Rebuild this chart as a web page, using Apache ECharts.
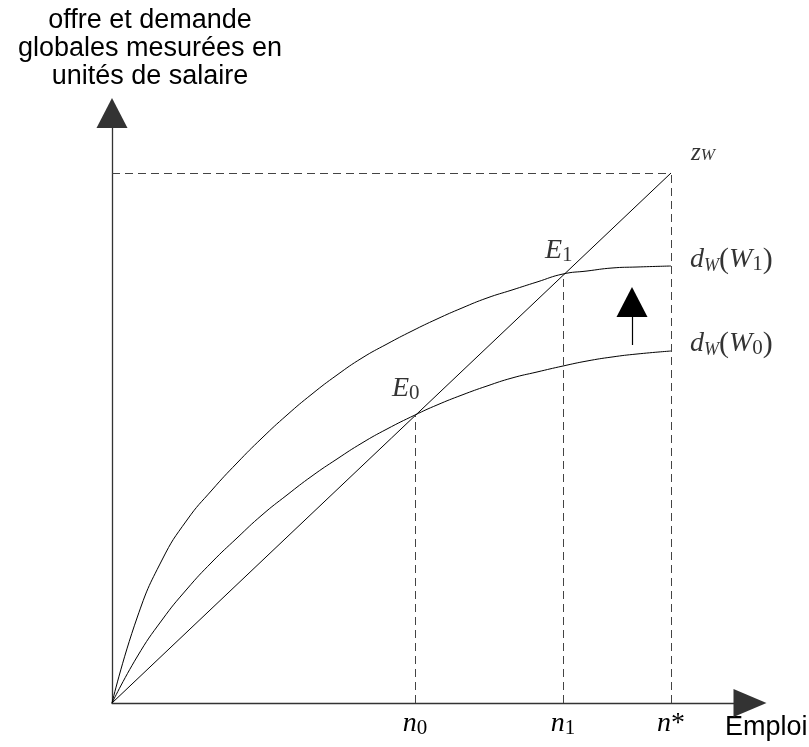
<!DOCTYPE html>
<html>
<head>
<meta charset="utf-8">
<script src="https://cdn.jsdelivr.net/npm/echarts@6/dist/echarts.min.js"></script>
<style>
  html, body { margin: 0; padding: 0; background: #fff; }
  #chart { width: 809px; height: 747px; }
</style>
</head>
<body>
<div id="chart"></div>
<script>
'use strict';

// values (units: pixels from the origin)
var n0 = 303, n1 = 451, nStar = 559;
var zTop = 530;
var e0 = 288, e1 = 429;

var supplyZ = [[0, 0], [nStar, zTop]];
var demandW1 = [[0, 0], [25, 85], [50, 143], [75, 183], [100, 213], [125, 240], [150, 265],
  [175, 288], [200, 309], [225, 328], [250, 345], [275, 359], [300, 372], [325, 384],
  [350, 395], [375, 405], [400, 413], [425, 421], [n1, e1], [475, 432], [500, 435],
  [525, 436], [nStar, 437]];
var demandW0 = [[0, 0], [25, 46], [50, 83], [75, 114], [100, 141], [125, 165], [150, 188],
  [175, 208], [200, 227], [225, 244], [250, 260], [275, 274], [n0, e0], [325, 298],
  [350, 308], [375, 317], [400, 325], [425, 331], [451, 337], [475, 342], [500, 346],
  [525, 349], [nStar, 352]];
var shiftArrow = [[520, 358], [520, 401]];

var xTickValues = [n0, n1, nStar];
var xTickLabels = ['{i|n}{s|0}', '{i|n}{s|1}', '{i|n}{st|*}'];

var pointAnchors = [[n0, e0], [n1, e1], [nStar, zTop], demandW1[demandW1.length - 1], demandW0[demandW0.length - 1]];
var pointTexts = ['{i|E}{s|0}', '{i|E}{s|1}', '{z|z}{zs|W}', '{i|d}{ws|W}{p|(}{i|W}{s|1}{p|)}', '{i|d}{ws|W}{p|(}{i|W}{s|0}{p|)}'];
var pointOffsets = [[-23, -11], [-18, -8], [20, -9], [19, 9], [19, 8]];

var serif = 'Liberation Serif';
var sans = 'Liberation Sans';
var rich = {
  i: {fontFamily: serif, fontStyle: 'italic', fontSize: 28, lineHeight: 30, color: '#000'},
  s: {fontFamily: serif, fontSize: 21, lineHeight: 14, verticalAlign: 'bottom', color: '#000'},
  ws: {fontFamily: serif, fontStyle: 'italic', fontSize: 18, lineHeight: 14, verticalAlign: 'bottom', color: '#000'},
  p: {fontFamily: serif, fontSize: 30, lineHeight: 30, color: '#000'},
  st: {fontFamily: serif, fontSize: 28, lineHeight: 30, color: '#000'},
  z: {fontFamily: serif, fontStyle: 'italic', fontSize: 25, lineHeight: 22, color: '#000'},
  zs: {fontFamily: serif, fontStyle: 'italic', fontSize: 17, lineHeight: 12, verticalAlign: 'bottom', color: '#000'}
};

var chartDom = document.getElementById('chart');
var myChart = echarts.init(chartDom);
var option;

var curveStyle = {color: '#000', width: 1};
var guideStyle = {color: '#444', width: 1, type: [8, 5]};

option = {
  animation: false,
  backgroundColor: '#fff',
  grid: {left: 112, top: 113, right: 59, bottom: 44, outerBoundsMode: 'none'},
  xAxis: {
    type: 'value',
    min: 0,
    max: 638,
    splitLine: {show: false},
    axisTick: {show: false},
    axisLine: {
      lineStyle: {color: '#333', width: 1.3},
      symbol: ['none', 'triangle'],
      symbolSize: [28, 33]
    },
    axisLabel: {
      customValues: xTickValues,
      margin: 6,
      formatter: function (v) {
        return xTickLabels[xTickValues.indexOf(v)] || '';
      },
      rich: rich
    },
    name: 'Emploi',
    nameLocation: 'end',
    nameGap: -25,
    nameTextStyle: {
      fontFamily: sans, fontSize: 27, color: '#000',
      align: 'left', verticalAlign: 'top', padding: [11, 0, 0, 0]
    }
  },
  yAxis: {
    type: 'value',
    min: 0,
    max: 590,
    splitLine: {show: false},
    axisTick: {show: false},
    axisLabel: {show: false},
    axisLine: {
      lineStyle: {color: '#333', width: 1.3},
      symbol: ['none', 'triangle'],
      symbolSize: [31, 30]
    },
    name: 'offre et demande\nglobales mesurées en\nunités de salaire',
    nameLocation: 'end',
    nameGap: 22,
    nameTextStyle: {
      fontFamily: sans, fontSize: 27, lineHeight: 28, color: '#000',
      align: 'center', padding: [0, 0, 0, 76]
    }
  },
  series: [
    {
      name: 'zw',
      type: 'line',
      data: supplyZ,
      symbol: 'none',
      lineStyle: curveStyle,
      silent: true,
      markLine: {
        silent: true,
        symbol: 'none',
        label: {show: false},
        lineStyle: guideStyle,
        data: [
          [{coord: [0, zTop]}, {coord: [nStar, zTop]}],
          [{coord: [nStar, 0]}, {coord: [nStar, zTop]}],
          [{coord: [n0, 0]}, {coord: [n0, e0]}],
          [{coord: [n1, 0]}, {coord: [n1, e1]}]
        ]
      }
    },
    {
      name: 'dW1',
      type: 'line',
      data: demandW1,
      smooth: 0.5,
      symbol: 'none',
      lineStyle: curveStyle,
      silent: true,
      markLine: {
        silent: true,
        symbol: ['none', 'triangle'],
        symbolSize: [31, 30],
        label: {show: false},
        lineStyle: {color: '#000', width: 1.2, type: 'solid'},
        itemStyle: {color: '#000'},
        data: [[{coord: shiftArrow[0]}, {coord: shiftArrow[1]}]]
      }
    },
    {
      name: 'dW0',
      type: 'line',
      data: demandW0,
      smooth: 0.5,
      symbol: 'none',
      lineStyle: curveStyle,
      silent: true
    },
    {
      name: 'labels',
      type: 'scatter',
      symbolSize: 0,
      silent: true,
      data: pointAnchors.map(function (p, k) {
        return {
          value: p,
          label: {
            show: true,
            position: pointOffsets[k],
            align: 'left',
            verticalAlign: 'bottom',
            formatter: pointTexts[k],
            rich: rich
          }
        };
      })
    }
  ]
};

option && myChart.setOption(option);
</script>
</body>
</html>
